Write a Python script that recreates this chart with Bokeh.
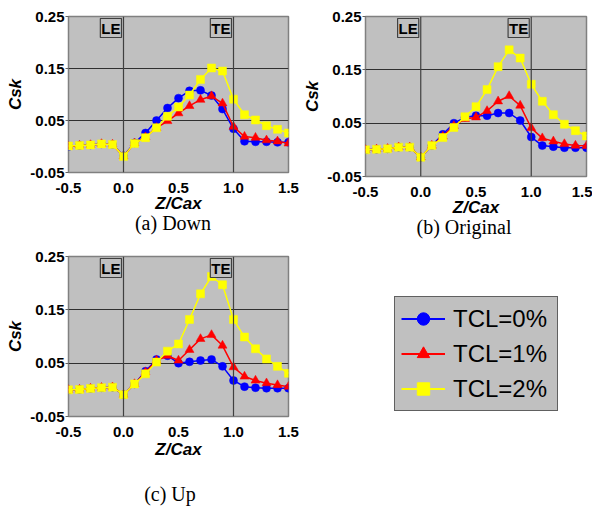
from bokeh.plotting import figure
from bokeh.models import (Range1d, FixedTicker, Span, Label, Legend, LegendItem,
                          NumeralTickFormatter, Div)
from bokeh.layouts import column, row
from bokeh.embed import file_html
from bokeh.resources import INLINE

# ---------------- data ----------------
z_cax = [-0.5, -0.4, -0.3, -0.2, -0.1, 0.0, 0.1, 0.2, 0.3, 0.4, 0.5,
         0.6, 0.7, 0.8, 0.9, 1.0, 1.1, 1.2, 1.3, 1.4, 1.5]

# (a) Down
down_tcl0 = [0.000, 0.002, 0.003, 0.005, 0.004, -0.018, 0.007, 0.026, 0.050, 0.074, 0.093,
             0.107, 0.108, 0.098, 0.072, 0.034, 0.010, 0.009, 0.009, 0.008, 0.008]
down_tcl1 = [0.000, 0.002, 0.003, 0.005, 0.004, -0.019, 0.006, 0.018, 0.036, 0.049, 0.064,
             0.078, 0.090, 0.097, 0.083, 0.038, 0.019, 0.017, 0.012, 0.010, 0.006]
down_tcl2 = [0.001, 0.002, 0.003, 0.005, 0.004, -0.019, 0.006, 0.017, 0.036, 0.058, 0.076,
             0.099, 0.129, 0.151, 0.145, 0.091, 0.061, 0.051, 0.040, 0.033, 0.026]

# (b) Original
orig_tcl0 = [0.000, 0.001, 0.002, 0.005, 0.005, -0.014, 0.008, 0.029, 0.050, 0.061, 0.064,
             0.064, 0.069, 0.069, 0.055, 0.024, 0.008, 0.006, 0.004, 0.004, 0.004]
orig_tcl1 = [0.000, 0.001, 0.002, 0.005, 0.005, -0.014, 0.008, 0.025, 0.045, 0.058, 0.061,
             0.073, 0.091, 0.101, 0.083, 0.041, 0.022, 0.016, 0.011, 0.008, 0.0075]
orig_tcl2 = [0.000, 0.001, 0.002, 0.005, 0.005, -0.014, 0.008, 0.023, 0.042, 0.062, 0.081,
             0.113, 0.156, 0.1875, 0.172, 0.123, 0.091, 0.066, 0.048, 0.036, 0.026]

# (c) Up
up_tcl0 = [0.000, 0.0006, 0.0025, 0.004, 0.005, -0.009, 0.011, 0.035, 0.057, 0.064, 0.050,
           0.0525, 0.055, 0.057, 0.044, 0.0175, 0.006, 0.004, 0.003, 0.003, 0.003]
up_tcl1 = [0.000, 0.0006, 0.0025, 0.004, 0.005, -0.009, 0.011, 0.033, 0.055, 0.064, 0.055,
           0.075, 0.0955, 0.103, 0.083, 0.0425, 0.025, 0.0175, 0.0125, 0.009, 0.006]
up_tcl2 = [0.000, 0.0006, 0.0025, 0.004, 0.005, -0.009, 0.011, 0.030, 0.052, 0.0725, 0.086,
           0.132, 0.180, 0.2125, 0.197, 0.132, 0.099, 0.077, 0.058, 0.044, 0.031]

x_ticks = [-0.5, 0.0, 0.5, 1.0, 1.5]
y_ticks = [-0.05, 0.05, 0.15, 0.25]
series_labels = ["TCL=0%", "TCL=1%", "TCL=2%"]
series_colors = ["#0000ff", "#ff0000", "#ffff00"]
series_markers = ["circle", "triangle", "square"]
edge_labels = ["LE", "TE"]
edge_positions = [0.0, 1.0]
captions = ["(a) Down", "(b) Original", "(c) Up"]

SANS = "Liberation Sans"
SERIF = "Liberation Serif"
PLOT_BG = "#c0c0c0"


def make_panel(ys, frame_w, frame_h, border_left, border_right,
               border_top, border_bottom, xlabel_standoff):
    p = figure(frame_width=frame_w, frame_height=frame_h,
               x_range=Range1d(-0.5, 1.5), y_range=Range1d(-0.05, 0.25),
               min_border_left=border_left, min_border_right=border_right,
               min_border_top=border_top, min_border_bottom=border_bottom,
               toolbar_location=None, output_backend="svg",
               background_fill_color=PLOT_BG, border_fill_color="white",
               outline_line_color="#808080", outline_line_width=1.5)
    p.xgrid.visible = False
    p.ygrid.ticker = FixedTicker(ticks=y_ticks)
    p.ygrid.grid_line_color = "#303030"
    p.ygrid.grid_line_width = 1

    p.xaxis.ticker = FixedTicker(ticks=x_ticks)
    p.yaxis.ticker = FixedTicker(ticks=y_ticks)
    p.xaxis.formatter = NumeralTickFormatter(format="0.0")
    p.yaxis.formatter = NumeralTickFormatter(format="0.00")
    for ax in (p.xaxis[0], p.yaxis[0]):
        ax.axis_line_color = None
        ax.minor_tick_line_color = None
        ax.major_tick_in = 0
        ax.major_label_text_font = SANS
        ax.major_label_text_font_style = "bold"
        ax.major_label_text_font_size = "15px"
        ax.major_label_text_color = "black"
        ax.axis_label_text_font = SANS
        ax.axis_label_text_font_style = "bold italic"
        ax.axis_label_text_font_size = "17px"
        ax.axis_label_text_color = "black"
    p.xaxis.major_tick_out = 0
    p.xaxis.major_label_standoff = 10
    p.xaxis.axis_label_standoff = xlabel_standoff
    p.yaxis.major_tick_out = 3
    p.yaxis.major_tick_line_color = "#606060"
    p.yaxis.major_label_standoff = 1
    p.yaxis.axis_label_standoff = 2
    p.xaxis.axis_label = "Z/Cax"
    p.yaxis.axis_label = "Csk"

    for xe, lab in zip(edge_positions, edge_labels):
        p.add_layout(Span(location=xe, dimension="height",
                          line_color="#404040", line_width=1.2))
        p.add_layout(Label(x=xe, y=0.25, text=lab, text_align="right",
                           text_baseline="top", x_offset=-2, y_offset=-2,
                           text_font=SANS, text_font_style="bold",
                           text_font_size="15px", text_color="black",
                           background_fill_color=PLOT_BG,
                           border_line_color="#404040", border_line_width=1.2,
                           padding=1))

    for yv, col, mk in zip(ys, series_colors, series_markers):
        p.line(z_cax, yv, line_color=col, line_width=1.5)
        p.scatter(z_cax, yv, marker=mk, size=9 if mk == "triangle" else 8,
                  fill_color=col, line_color=col, line_width=0.5)
    return p


def caption_div(text, width, height, left):
    return Div(text=text, width=width, height=height, margin=(0, 0, 0, left),
               styles={"font-family": SERIF, "font-size": "20px",
                       "line-height": "16px", "text-align": "center",
                       "color": "black"})


pa = make_panel([down_tcl0, down_tcl1, down_tcl2], 220, 156, 68, 12, 16, 43, -2)
pb = make_panel([orig_tcl0, orig_tcl1, orig_tcl2], 221, 160, 62, 6, 16, 43, -2)
pc = make_panel([up_tcl0, up_tcl1, up_tcl2], 220, 160, 68, 12, 16, 70, 0)

da = caption_div(captions[0], 254, 25, 46)   # 16+156+43 = 215 -> 240
db = caption_div(captions[1], 250, 21, 39)   # 16+160+43 = 219 -> 240
dc = caption_div(captions[2], 260, 19, 40)   # 16+160+70 = 246 -> 265

# legend panel
lf = figure(frame_width=289, frame_height=265, min_border=0,
            x_range=Range1d(0, 1), y_range=Range1d(0, 1),
            toolbar_location=None, output_backend="svg",
            outline_line_color=None, x_axis_location=None, y_axis_location=None,
            background_fill_color="white", border_fill_color="white")
lf.grid.visible = False
items = []
for lab, yv, col, mk in zip(series_labels, [up_tcl0, up_tcl1, up_tcl2],
                            series_colors, series_markers):
    ln = lf.line(z_cax, yv, line_color=col, line_width=2, visible=False)
    sc = lf.scatter(z_cax, yv, marker=mk, fill_color=col, line_color=col,
                    visible=False)
    items.append(LegendItem(label=lab, renderers=[ln, sc]))
legend = Legend(items=items, location=(94, 94), orientation="vertical",
                background_fill_color=PLOT_BG, background_fill_alpha=1.0,
                border_line_color="black", border_line_width=1.5,
                inactive_fill_alpha=0.0,
                label_text_font=SANS, label_text_font_size="24px",
                label_text_color="black",
                glyph_width=44, glyph_height=31, label_height=31,
                label_width=98, label_standoff=8, spacing=4, padding=6,
                margin=0)
lf.add_layout(legend, "center")

layout = column(row(column(pa, da), column(pb, db)),
                row(column(pc, dc), lf))
open("out.html", "w").write(file_html(layout, INLINE))
